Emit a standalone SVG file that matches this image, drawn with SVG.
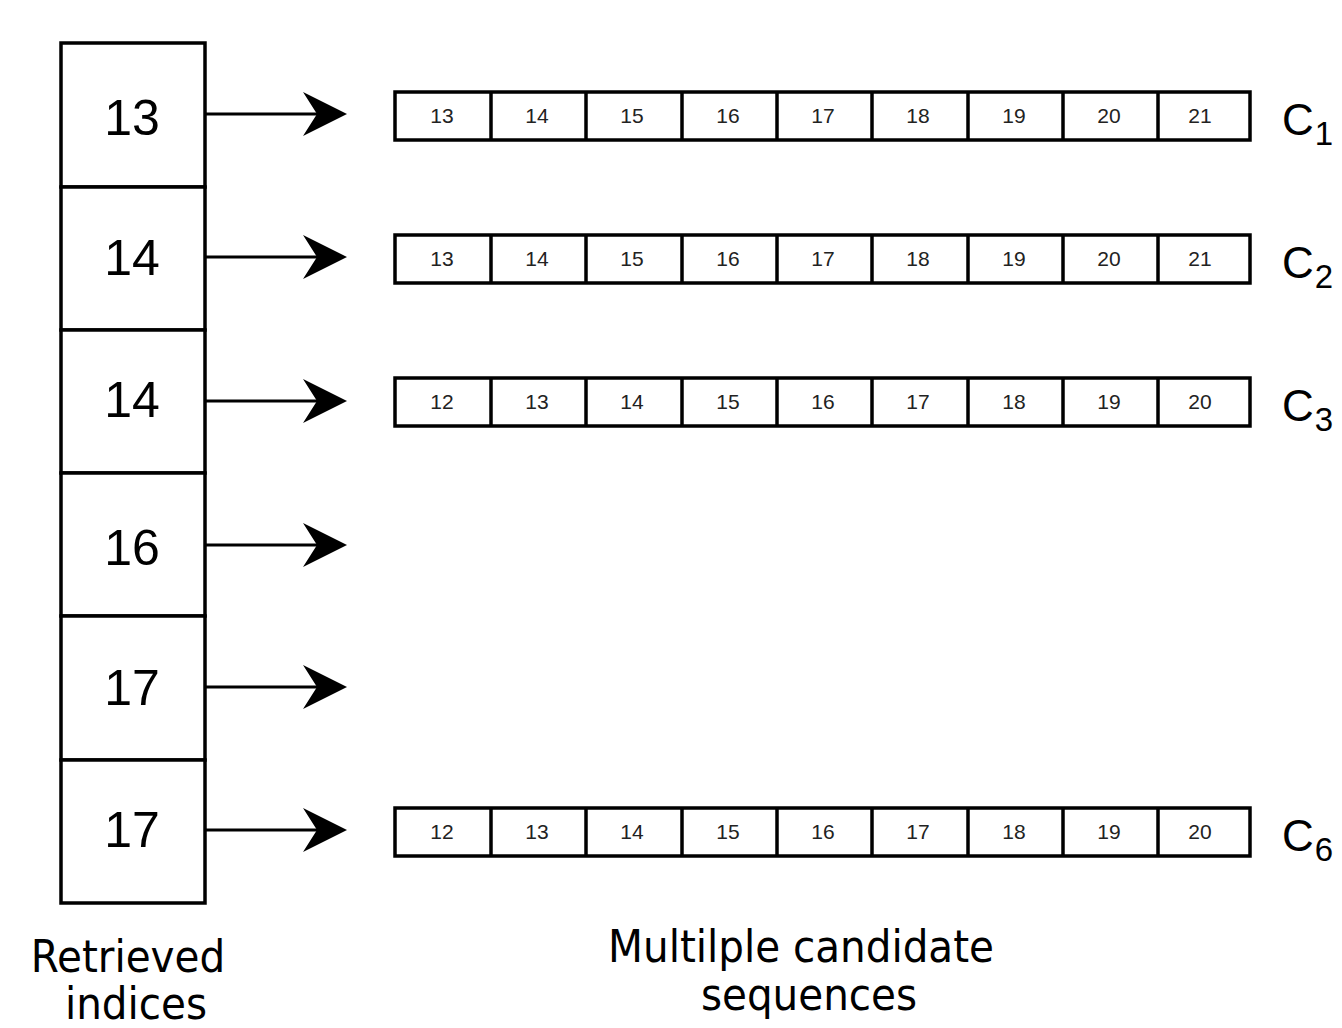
<svg xmlns="http://www.w3.org/2000/svg" width="1342" height="1028" viewBox="0 0 1342 1028">
<style>
.box{fill:#fff;stroke:#000;stroke-width:3.5}
.cell{fill:#fff;stroke:#000;stroke-width:3.5}
.big{font-family:"Liberation Sans",Arial,sans-serif;font-size:50px;text-anchor:middle;fill:#000}
.sm{font-family:"Liberation Sans",Arial,sans-serif;font-size:21px;text-anchor:middle;fill:#222}
.c{font-family:"Liberation Sans",Arial,sans-serif;font-size:44px;fill:#000}
.sub{font-size:33px}
.lab{font-family:"DejaVu Sans Condensed","DejaVu Sans",sans-serif;font-size:45px;text-anchor:middle;fill:#000}
.conn{stroke:#000;stroke-width:3.5;fill:none}
.ln{stroke:#000;stroke-width:3;fill:none}
</style>
<defs>
<path id="ah" d="M0,0 L-44,-22 L-30,0 L-44,22 Z" fill="#000"/>
</defs>
<g id="indices">
<g id="idx1"><rect class="box" x="61" y="43" width="144" height="144"/><text class="big" x="132" y="135">13</text></g>
<g id="idx2"><rect class="box" x="61" y="187" width="144" height="143"/><text class="big" x="132" y="275">14</text></g>
<g id="idx3"><rect class="box" x="61" y="330" width="144" height="143"/><text class="big" x="132" y="417">14</text></g>
<g id="idx4"><rect class="box" x="61" y="473" width="144" height="143"/><text class="big" x="132" y="565">16</text></g>
<g id="idx5"><rect class="box" x="61" y="616" width="144" height="144"/><text class="big" x="132" y="705">17</text></g>
<g id="idx6"><rect class="box" x="61" y="760" width="144" height="143"/><text class="big" x="132" y="847">17</text></g>
</g>
<g id="connectors">
<line class="ln" x1="205" y1="114" x2="320" y2="114"/><use href="#ah" x="347" y="114"/>
<line class="ln" x1="205" y1="257" x2="320" y2="257"/><use href="#ah" x="347" y="257"/>
<line class="ln" x1="205" y1="401" x2="320" y2="401"/><use href="#ah" x="347" y="401"/>
<line class="ln" x1="205" y1="545" x2="320" y2="545"/><use href="#ah" x="347" y="545"/>
<line class="ln" x1="205" y1="687" x2="320" y2="687"/><use href="#ah" x="347" y="687"/>
<line class="ln" x1="205" y1="830" x2="320" y2="830"/><use href="#ah" x="347" y="830"/>
</g>
<g id="seq1">
<rect class="cell" x="395" y="92" width="855" height="48"/>
<path class="conn" d="M491,92V140M586,92V140M682,92V140M777,92V140M872,92V140M968,92V140M1063,92V140M1158,92V140"/>
<text class="sm" y="123"><tspan x="442">13</tspan><tspan x="537">14</tspan><tspan x="632">15</tspan><tspan x="728">16</tspan><tspan x="823">17</tspan><tspan x="918">18</tspan><tspan x="1014">19</tspan><tspan x="1109">20</tspan><tspan x="1200">21</tspan></text>
<text class="c" x="1282" y="135">C<tspan class="sub" dx="1" dy="10">1</tspan></text>
</g>
<g id="seq2">
<rect class="cell" x="395" y="235" width="855" height="48"/>
<path class="conn" d="M491,235V283M586,235V283M682,235V283M777,235V283M872,235V283M968,235V283M1063,235V283M1158,235V283"/>
<text class="sm" y="266"><tspan x="442">13</tspan><tspan x="537">14</tspan><tspan x="632">15</tspan><tspan x="728">16</tspan><tspan x="823">17</tspan><tspan x="918">18</tspan><tspan x="1014">19</tspan><tspan x="1109">20</tspan><tspan x="1200">21</tspan></text>
<text class="c" x="1282" y="278">C<tspan class="sub" dx="1" dy="10">2</tspan></text>
</g>
<g id="seq3">
<rect class="cell" x="395" y="378" width="855" height="48"/>
<path class="conn" d="M491,378V426M586,378V426M682,378V426M777,378V426M872,378V426M968,378V426M1063,378V426M1158,378V426"/>
<text class="sm" y="409"><tspan x="442">12</tspan><tspan x="537">13</tspan><tspan x="632">14</tspan><tspan x="728">15</tspan><tspan x="823">16</tspan><tspan x="918">17</tspan><tspan x="1014">18</tspan><tspan x="1109">19</tspan><tspan x="1200">20</tspan></text>
<text class="c" x="1282" y="421">C<tspan class="sub" dx="1" dy="10">3</tspan></text>
</g>
<g id="seq6">
<rect class="cell" x="395" y="808" width="855" height="48"/>
<path class="conn" d="M491,808V856M586,808V856M682,808V856M777,808V856M872,808V856M968,808V856M1063,808V856M1158,808V856"/>
<text class="sm" y="839"><tspan x="442">12</tspan><tspan x="537">13</tspan><tspan x="632">14</tspan><tspan x="728">15</tspan><tspan x="823">16</tspan><tspan x="918">17</tspan><tspan x="1014">18</tspan><tspan x="1109">19</tspan><tspan x="1200">20</tspan></text>
<text class="c" x="1282" y="851">C<tspan class="sub" dx="1" dy="10">6</tspan></text>
</g>
<g id="label-indices">
<text class="lab" x="128" y="972">Retrieved</text>
<text class="lab" x="136" y="1019">indices</text>
</g>
<g id="label-sequences">
<text class="lab" x="801" y="962">Multilple candidate</text>
<text class="lab" x="809" y="1010">sequences</text>
</g>
</svg>
